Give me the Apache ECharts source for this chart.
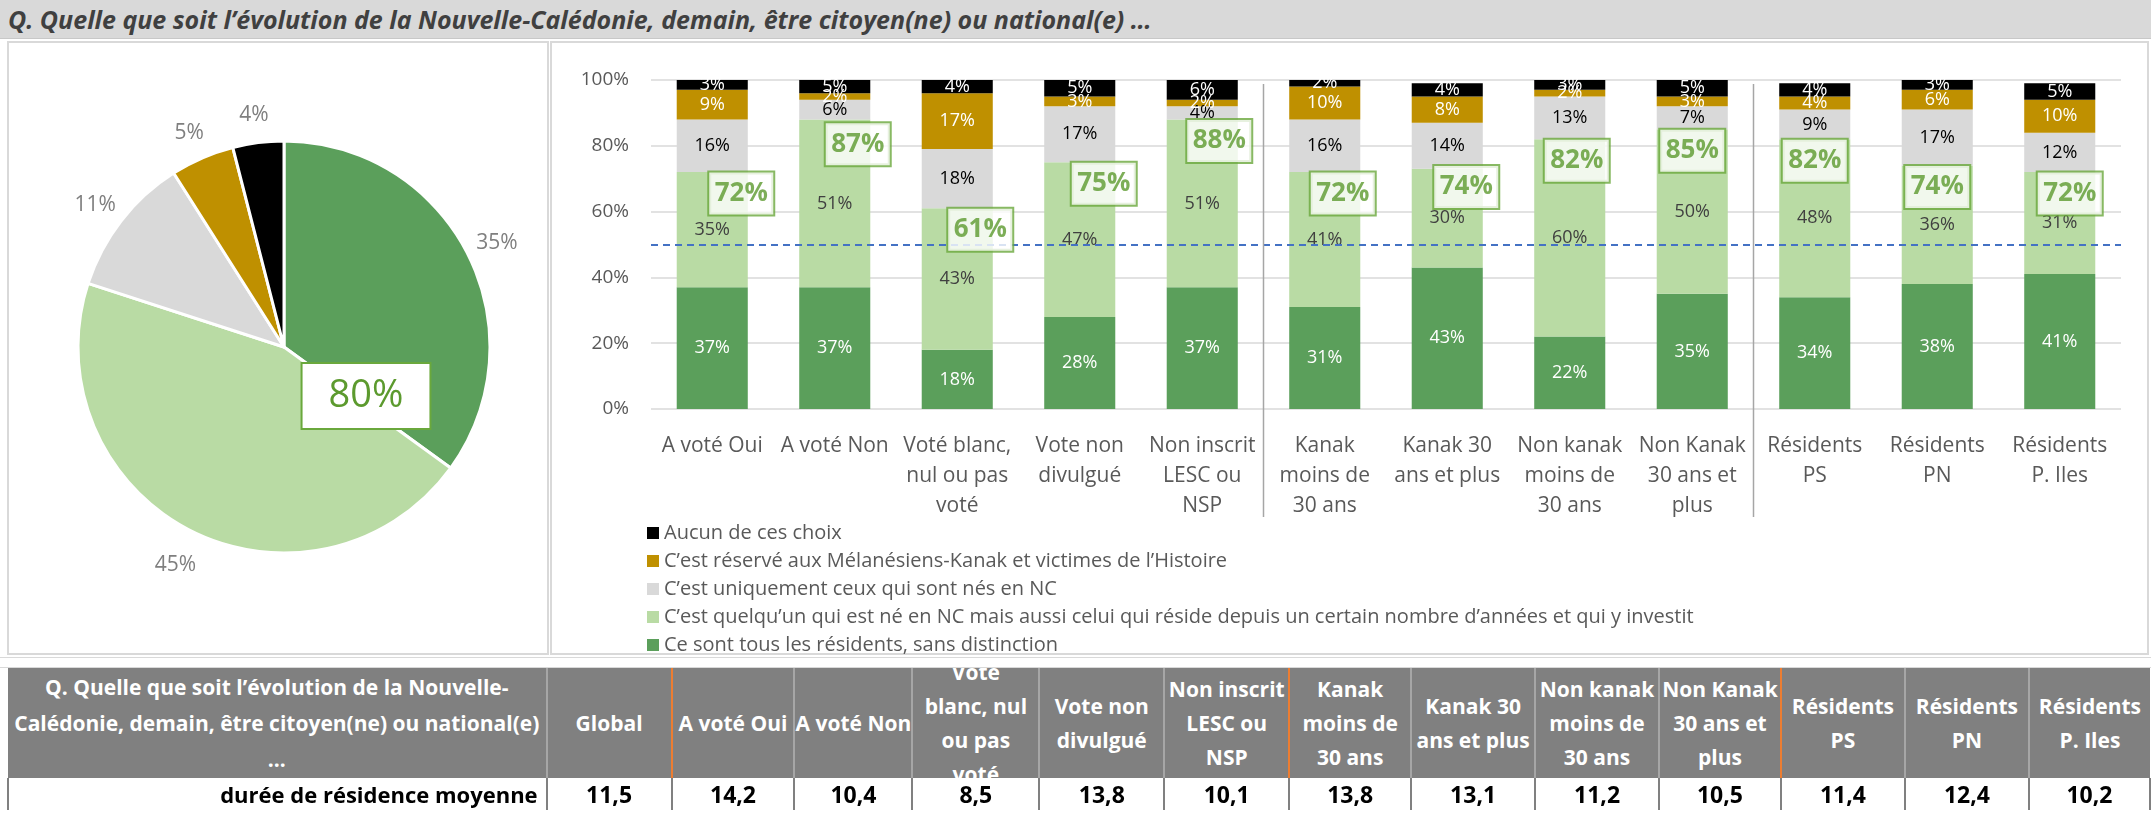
<!DOCTYPE html>
<html>
<head>
<meta charset="utf-8">
<script src="https://cdn.jsdelivr.net/npm/echarts@6/dist/echarts.min.js"></script>
<style>
    body { margin: 0; width: 2151px; height: 813px; overflow: hidden; background: #fff; position: relative; font-family: "Open Sans", sans-serif; }
    #head { position: absolute; left: 0; top: 0; width: 2151px; height: 38px; background: #d9d9d9; border-bottom: 1px solid #c8c8c8; }
    #head span { position: absolute; left: 8px; top: 0; line-height: 38px; font-size: 25px; font-weight: bold; font-style: italic; color: #404040; white-space: nowrap; }
    .panel { position: absolute; border: 2px solid #d9d9d9; background: #fff; box-sizing: border-box; }
    #strip { position: absolute; left: 0; top: 657px; width: 2151px; height: 9px; border-top: 1px solid #d9d9d9; border-bottom: 1px solid #d9d9d9; }
    #chart { position: absolute; left: 0; top: 0; width: 2151px; height: 700px; }
    #tbl { position: absolute; left: 7px; top: 668px; border-collapse: collapse; table-layout: fixed; }
    #tbl th { background: #808080; color: #fff; font-weight: bold; font-size: 21px; padding: 0; border-left: 2px solid #a6a6a6; }
    #tbl th div { height: 110px; overflow: hidden; display: flex; align-items: center; justify-content: center; text-align: center; line-height: 34px; }
    #tbl th.first div { line-height: 36px; }
    #tbl th.orange { border-left: 2px solid #ed7d31; }
    #tbl td { height: 31px; font-size: 23px; font-weight: bold; color: #000; text-align: center; border-left: 2px solid #808080; border-right: 2px solid #808080; padding: 0; }
    #tbl td.lab { text-align: right; padding-right: 8px; font-size: 22px; }
</style>
</head>
<body>
<div id="head"><span>Q. Quelle que soit l’évolution de la Nouvelle-Calédonie, demain, être citoyen(ne) ou national(e) …</span></div>
<div class="panel" style="left:7px;top:41px;width:542px;height:614px"></div>
<div class="panel" style="left:550px;top:41px;width:1599px;height:614px"></div>
<div id="strip"></div>
<div id="chart"></div>
<table id="tbl"></table>
<script>
// categories (x axis)
const categories = ['A voté Oui', 'A voté Non', 'Voté blanc,\nnul ou pas\nvoté', 'Vote non\ndivulgué', 'Non inscrit\nLESC ou\nNSP',
    'Kanak\nmoins de\n30 ans', 'Kanak 30\nans et plus', 'Non kanak\nmoins de\n30 ans', 'Non Kanak\n30 ans et\nplus',
    'Résidents\nPS', 'Résidents\nPN', 'Résidents\nP. Iles'];
const seriesNames = [
    'Ce sont tous les résidents, sans distinction',
    'C’est quelqu’un qui est né en NC mais aussi celui qui réside depuis un certain nombre d’années et qui y investit',
    'C’est uniquement ceux qui sont nés en NC',
    'C’est réservé aux Mélanésiens-Kanak et victimes de l’Histoire',
    'Aucun de ces choix'
];
// stacked values, bottom to top
const tousResidents = [37, 37, 18, 28, 37, 31, 43, 22, 35, 34, 38, 41];
const neOuResident = [35, 51, 43, 47, 51, 41, 30, 60, 50, 48, 36, 31];
const nesEnNC = [16, 6, 18, 17, 4, 16, 14, 13, 7, 9, 17, 12];
const reserveKanak = [9, 2, 17, 3, 2, 10, 8, 2, 3, 4, 6, 10];
const aucunChoix = [3, 5, 4, 5, 6, 2, 4, 3, 5, 4, 3, 5];
// green totals shown in the boxes
const totalOuvert = [72, 87, 61, 75, 88, 72, 74, 82, 85, 82, 74, 72];
// global pie
const pieValues = [35, 45, 11, 5, 4];
// table below
const tableHeads = ['Global', 'A voté Oui', 'A voté Non', 'Voté\nblanc, nul\nou pas\nvoté', 'Vote non\ndivulgué', 'Non inscrit\nLESC ou\nNSP',
    'Kanak\nmoins de\n30 ans', 'Kanak 30\nans et plus', 'Non kanak\nmoins de\n30 ans', 'Non Kanak\n30 ans et\nplus',
    'Résidents\nPS', 'Résidents\nPN', 'Résidents\nP. Iles'];
const dureeResidence = [11.5, 14.2, 10.4, 8.5, 13.8, 10.1, 13.8, 13.1, 11.2, 10.5, 11.4, 12.4, 10.2];

const colors = ['#5b9f5b', '#b9dba4', '#d9d9d9', '#bf9000', '#000000'];
const labelColors = ['#ffffff', '#404040', '#000000', '#ffffff', '#ffffff'];
const boxNudge = [29, 23, 23, 24, 17, 18, 19, 7, 0, 0, 0, 10];
const font = '"Open Sans", sans-serif';
const pieCenter = [284, 347];
const green = '#5c9a2e';

const chart = echarts.init(document.getElementById('chart'));
const values = [tousResidents, neOuResident, nesEnNC, reserveKanak, aucunChoix];

const barSeries = values.map((v, k) => {
    const s = {
        name: seriesNames[k],
        type: 'bar',
        stack: 'tot',
        barCategoryGap: '42%',
        data: v,
        itemStyle: { color: colors[k] },
        label: { show: true, position: 'inside', formatter: '{c}%', color: labelColors[k], fontSize: 18, fontFamily: font }
    };
    if (k === 0) {
        s.markLine = {
            silent: true,
            symbol: ['none', 'none'],
            label: { show: false },
            lineStyle: { color: '#4472c4', type: [7, 5], width: 2 },
            data: [{ yAxis: 50 }]
        };
    }
    return s;
});

const option = {
    animation: false,
    textStyle: { fontFamily: font },
    grid: { left: 651, right: 30, top: 80, bottom: 291 },
    legend: {
        orient: 'vertical',
        left: 647,
        top: 523,
        height: 170,
        padding: 0,
        itemWidth: 12,
        itemHeight: 12,
        itemGap: 8,
        icon: 'rect',
        selectedMode: false,
        textStyle: { color: '#595959', fontSize: 20, lineHeight: 20, fontFamily: font },
        data: seriesNames.slice().reverse()
    },
    xAxis: {
        type: 'category',
        data: categories,
        axisLine: { show: false },
        axisTick: { show: false },
        axisLabel: { interval: 0, color: '#595959', fontSize: 21, lineHeight: 30, margin: 22, fontFamily: font }
    },
    yAxis: {
        type: 'value',
        min: 0,
        max: 100,
        interval: 20,
        axisLabel: { formatter: '{value}%', color: '#595959', fontSize: 19, margin: 22, fontFamily: font },
        splitLine: { lineStyle: { color: '#d9d9d9', width: 1.5 } }
    },
    series: [
        ...barSeries,
        {
            type: 'scatter',
            silent: true,
            z: 5,
            symbolSize: 1,
            itemStyle: { color: 'rgba(0,0,0,0)' },
            data: totalOuvert.map((v, i) => ({ value: [i, v], label: { offset: [boxNudge[i], 0] } })),
            label: {
                show: true,
                position: 'bottom',
                distance: 0,
                formatter: p => p.value[1] + '%',
                fontSize: 26,
                fontWeight: 'bold',
                fontFamily: font,
                color: green,
                backgroundColor: '#ffffff',
                borderColor: '#6aa83c',
                borderWidth: 2,
                width: 64,
                height: 42,
                lineHeight: 42
            }
        },
        {
            type: 'pie',
            silent: true,
            center: pieCenter,
            radius: 206,
            startAngle: 90,
            data: pieValues.map((v, k) => ({ value: v, name: seriesNames[k], itemStyle: { color: colors[k] } })),
            itemStyle: { borderColor: '#ffffff', borderWidth: 3 },
            label: { show: false },
            labelLine: { show: false }
        },
        {
            type: 'pie',
            silent: true,
            center: pieCenter,
            radius: [206, 266],
            startAngle: 90,
            data: pieValues.map(v => ({ value: v })),
            itemStyle: { color: 'rgba(0,0,0,0)' },
            label: { show: true, position: 'inside', offset: [0, 5], formatter: '{c}%', color: '#7f7f7f', fontSize: 21, fontFamily: font },
            labelLine: { show: false }
        }
    ]
};
chart.setOption(option);

// separators between groups + global box on the pie
const xAt = i => chart.convertToPixel({ xAxisIndex: 0 }, i);
const sep1 = (xAt(4) + xAt(5)) / 2;
const sep2 = (xAt(8) + xAt(9)) / 2;
chart.setOption({
    graphic: [
        { type: 'line', z: 50, shape: { x1: sep1, y1: 84, x2: sep1, y2: 517 }, style: { stroke: '#a6a6a6', lineWidth: 1.5 } },
        { type: 'line', z: 50, shape: { x1: sep2, y1: 84, x2: sep2, y2: 517 }, style: { stroke: '#a6a6a6', lineWidth: 1.5 } },
        {
            type: 'text',
            z: 100,
            x: pieCenter[0] + 82,
            y: pieCenter[1] + 49,
            style: {
                text: (pieValues[0] + pieValues[1]) + '%',
                font: '38px "Open Sans", sans-serif',
                fill: green,
                align: 'center',
                verticalAlign: 'middle',
                backgroundColor: '#ffffff',
                borderColor: '#6aa83c',
                borderWidth: 2,
                padding: [13, 26]
            }
        }
    ]
});

// table
const colWidths = [539, 125, 123, 118, 127, 125, 125, 122, 124, 124, 122, 124, 124, 121];
const orangeCols = [2, 7, 11];
let html = '<colgroup>' + colWidths.map(w => `<col style="width:${w}px">`).join('') + '</colgroup>';
html += '<tr><th class="first" style="border-left:none"><div>Q. Quelle que soit l’évolution de la Nouvelle-<br>Calédonie, demain, être citoyen(ne) ou national(e)<br>…</div></th>';
tableHeads.forEach((h, i) => {
    const cls = orangeCols.includes(i + 1) ? ' class="orange"' : '';
    html += `<th${cls}><div>${h.split('\n').join('<br>')}</div></th>`;
});
html += '</tr><tr><td class="lab">durée de résidence moyenne</td>';
dureeResidence.forEach(v => {
    html += `<td>${v.toFixed(1).replace('.', ',')}</td>`;
});
html += '</tr>';
document.getElementById('tbl').innerHTML = html;
</script>
</body>
</html>
